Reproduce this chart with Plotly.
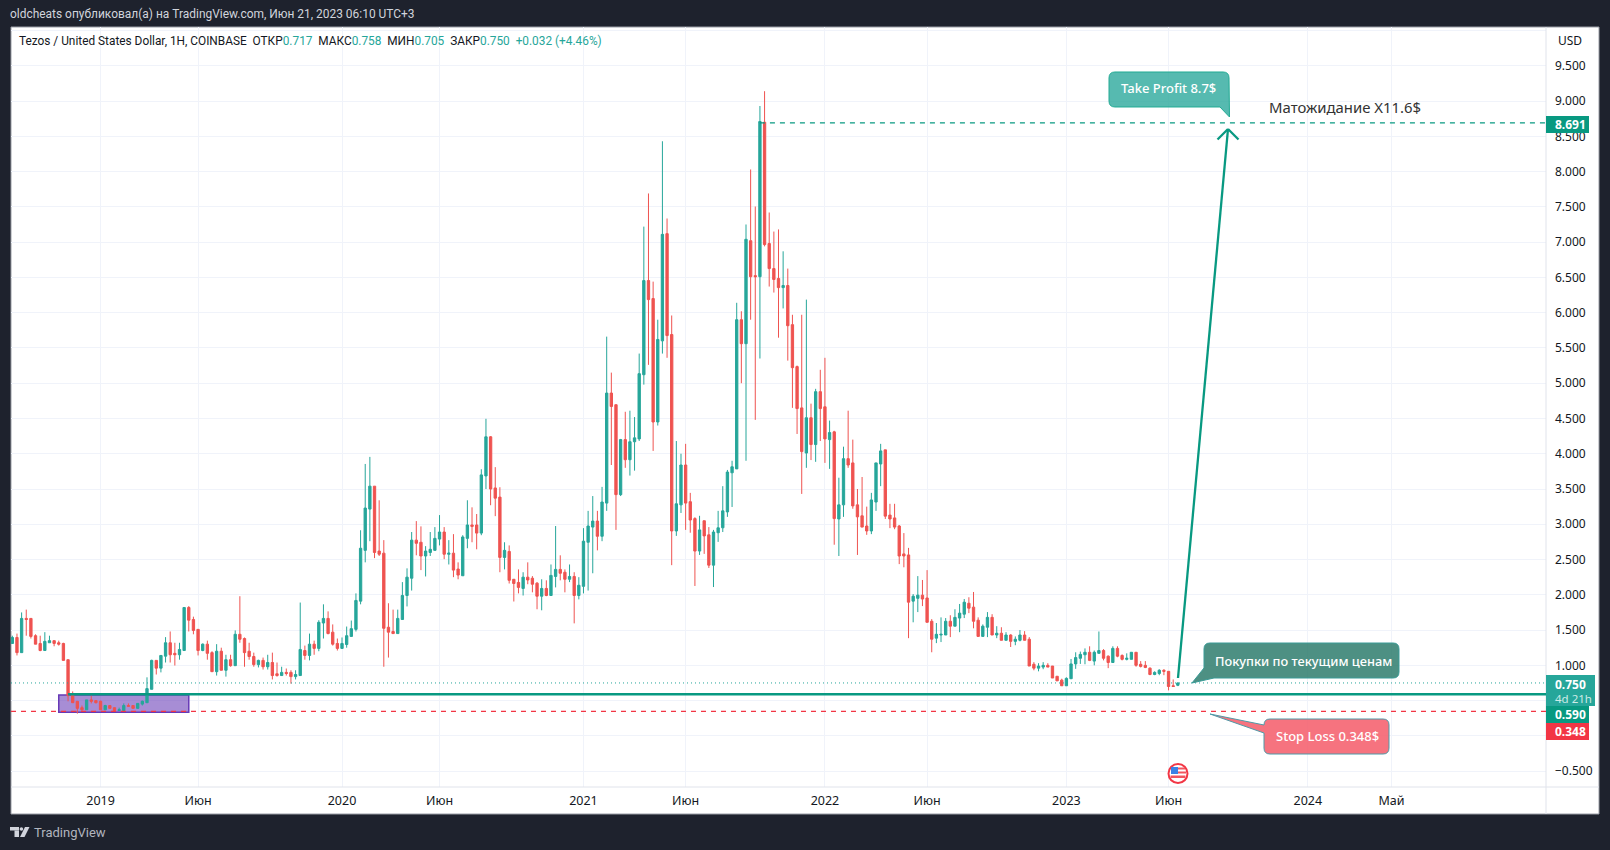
import pandas as pd
import plotly.graph_objects as go

# ---- data (weekly bars) ----
first_bar = "2018-08-27"
open_ = [1.31,1.395,1.18,1.665,1.665,1.42,1.31,1.21,1.32,1.35,
1.32,1.31,1.08,.60,.49,.40,.37,.51,.50,.49,
.37,.43,.40,.36,.36,.43,.43,.39,.45,.47,
.66,1.07,.96,1.13,1.32,1.17,1.15,1.21,1.82,1.65,
1.51,1.21,1.30,1.18,.91,1.20,.93,1.08,.995,1.44,
1.38,1.20,1.125,1.01,1.07,.98,1.04,.88,.855,.90,
.90,.84,.855,1.21,1.14,1.30,1.24,1.60,1.665,1.47,
1.31,1.24,1.295,1.41,1.51,1.91,2.63,3.215,3.54,2.62,
2.59,1.54,1.48,1.45,1.65,1.99,2.235,2.775,2.745,2.55,
2.60,2.63,2.79,2.89,2.575,2.59,2.365,2.27,2.80,2.99,
2.99,2.875,3.685,4.24,3.515,3.385,2.53,2.615,2.22,2.175,
2.09,2.25,2.235,2.165,1.98,2.09,1.99,2.26,2.36,2.32,
2.22,2.26,1.99,2.12,2.745,2.96,3.045,2.83,3.30,4.86,
4.695,3.42,4.20,3.915,4.17,4.21,5.12,6.455,6.20,4.45,
5.60,7.12,5.69,2.905,3.275,3.84,3.32,3.08,2.62,3.05,
2.85,2.42,2.88,2.95,3.175,3.73,3.785,5.90,5.56,7.02,
6.525,6.51,8.70,6.98,6.625,6.485,6.355,6.385,5.83,5.235,
4.65,4.01,4.51,4.13,4.88,4.665,4.20,4.31,3.075,3.275,
3.93,3.87,3.275,3.12,2.975,2.905,3.315,3.855,4.055,3.13,
3.09,2.975,2.58,2.565,1.91,1.95,1.995,1.955,1.625,1.385,
1.43,1.43,1.625,1.555,1.67,1.725,1.88,1.825,1.64,1.41,
1.54,1.68,1.43,1.455,1.355,1.43,1.34,1.355,1.43,1.37,
1.015,.96,.975,1.0,.99,.845,.79,.71,.81,1.02,
1.10,1.15,1.185,1.06,1.17,1.21,1.13,1.04,1.24,1.14,
1.085,1.085,1.185,1.015,1.0,.96,.87,.885,.93,.915,.71,.717]
high = [1.42,1.45,1.75,1.79,1.665,1.44,1.42,1.47,1.42,1.35,
1.35,1.32,1.08,.63,.49,.43,.51,.57,.50,.50,
.44,.43,.40,.40,.46,.46,.43,.46,.50,.83,
1.08,1.07,1.14,1.40,1.48,1.32,1.32,1.82,1.84,1.69,
1.51,1.31,1.35,1.20,1.30,1.25,1.15,1.15,1.495,1.98,
1.395,1.32,1.18,1.08,1.11,1.15,1.18,1.04,.98,.955,
.93,.93,1.89,1.28,1.45,1.35,1.64,1.865,1.765,1.58,
1.38,1.395,1.55,1.635,2.02,2.915,3.855,3.955,3.54,3.34,
2.775,1.88,1.79,1.79,2.18,2.375,2.89,3.045,2.97,2.69,
2.89,2.96,3.13,2.96,2.775,2.86,2.46,2.845,3.34,3.24,
3.145,3.78,4.495,4.25,3.81,3.525,2.745,2.70,2.22,2.36,
2.32,2.46,2.265,2.18,2.22,2.205,2.43,2.975,2.56,2.36,
2.43,2.32,2.25,2.945,3.19,3.40,3.19,3.53,5.66,5.15,
4.695,4.21,4.595,4.61,4.52,5.42,7.22,7.69,6.44,5.90,
8.43,7.335,5.96,4.18,4.0,4.14,3.445,3.10,3.12,3.05,
2.96,2.92,3.19,3.54,3.77,3.90,6.14,6.02,7.25,8.03,
7.505,8.93,9.14,7.42,7.15,7.18,6.87,6.625,5.97,5.25,
5.97,6.185,4.71,4.92,5.19,5.36,4.47,4.325,3.66,4.10,
4.61,4.20,3.50,3.67,3.25,3.445,3.87,4.14,4.055,3.29,
3.29,2.99,2.875,2.665,2.01,2.265,2.21,2.35,1.655,1.60,
1.68,1.67,1.71,1.795,1.87,1.94,1.965,2.04,1.68,1.58,
1.755,1.725,1.555,1.54,1.47,1.44,1.41,1.50,1.485,1.40,
1.045,1.03,1.045,1.03,.99,.845,.81,.83,1.09,1.185,
1.195,1.24,1.27,1.21,1.48,1.23,1.14,1.27,1.27,1.155,
1.17,1.185,1.185,1.06,1.06,.97,.915,.945,.945,.915,.80,.758]
low = [1.31,1.14,1.18,1.42,1.38,1.30,1.20,1.21,1.32,1.27,
1.28,1.07,.49,.47,.315,.36,.37,.46,.46,.37,
.37,.39,.36,.36,.36,.42,.39,.39,.43,.47,
.66,.87,.90,1.04,1.04,.997,1.08,1.21,1.48,1.44,
1.14,1.20,1.08,.91,.855,.93,.84,.98,.995,1.32,
.98,1.08,.98,.97,.94,.94,.80,.84,.855,.855,
.74,.80,.855,1.08,1.07,1.15,1.20,1.38,1.44,1.28,
1.21,1.24,1.25,1.41,1.48,1.865,2.46,2.76,2.52,2.55,
.98,1.11,1.45,1.45,1.65,1.835,2.06,2.56,2.35,2.26,
2.55,2.63,2.70,2.505,2.43,2.25,2.22,2.27,2.66,2.745,
2.645,2.845,3.50,3.27,3.115,2.32,2.36,2.16,1.905,2.02,
1.99,2.15,2.035,1.795,1.78,1.98,1.99,2.105,2.205,2.035,
2.18,1.595,1.935,2.02,2.06,2.305,2.63,2.76,3.19,3.84,
2.92,3.40,3.80,3.69,3.76,4.18,4.98,5.26,4.04,4.40,
5.42,5.36,2.42,2.835,3.16,2.92,2.88,2.125,2.565,2.58,
2.38,2.11,2.75,2.89,3.105,3.245,3.785,5.0,3.90,5.90,
4.48,5.35,6.94,6.37,6.285,5.645,6.06,5.32,4.65,4.28,
3.43,3.80,3.91,3.885,4.18,3.87,3.785,2.71,2.55,3.105,
3.80,3.22,2.565,2.96,2.85,2.86,3.19,3.54,3.075,2.945,
2.93,2.435,2.39,1.385,1.61,1.755,1.84,1.61,1.185,1.315,
1.33,1.43,1.40,1.555,1.47,1.67,1.74,1.525,1.41,1.41,
1.40,1.43,1.385,1.355,1.355,1.26,1.285,1.34,1.355,.99,
.93,.915,.945,.975,.82,.78,.71,.71,.81,.95,
1.02,1.015,1.06,1.0,1.17,1.07,.96,1.04,1.115,1.07,
1.07,1.085,.98,.97,.96,.86,.86,.86,.86,.645,.70,.705]
close = [1.395,1.18,1.665,1.65,1.41,1.30,1.21,1.34,1.35,1.31,
1.30,1.07,.57,.47,.39,.37,.51,.49,.47,.37,
.43,.39,.36,.37,.43,.42,.39,.46,.49,.67,
1.07,.96,1.14,1.32,1.15,1.15,1.225,1.82,1.64,1.495,
1.21,1.30,1.17,.91,1.20,.93,1.08,.995,1.44,1.37,
1.18,1.125,1.01,1.07,.98,1.04,.855,.855,.90,.885,
.84,.87,1.225,1.14,1.30,1.24,1.61,1.665,1.45,1.30,
1.24,1.31,1.42,1.52,1.92,2.66,3.23,3.54,2.60,2.575,
1.525,1.47,1.45,1.665,1.99,2.25,2.775,2.73,2.55,2.62,
2.645,2.80,2.89,2.575,2.59,2.35,2.28,2.82,2.99,2.97,
2.875,3.70,4.24,3.50,3.37,2.53,2.63,2.205,2.16,2.105,
2.25,2.21,2.15,1.98,2.09,1.99,2.275,2.36,2.305,2.22,
2.26,1.99,2.135,2.76,2.975,3.045,2.83,3.315,4.86,4.67,
3.42,4.20,3.915,4.17,4.225,5.135,6.455,6.185,4.45,5.62,
7.11,5.675,2.905,3.29,3.84,3.30,3.06,2.62,2.92,2.835,
2.42,2.89,2.95,3.19,3.74,3.815,5.90,5.56,7.04,6.51,
6.51,8.71,6.965,6.625,6.47,6.355,6.385,5.815,5.22,4.64,
4.03,4.51,4.13,4.88,4.64,4.21,4.30,3.08,3.275,3.93,
3.84,3.26,3.105,2.96,2.905,3.345,3.87,4.04,3.115,3.075,
2.96,2.55,2.55,1.895,1.98,1.995,1.94,1.61,1.37,1.44,
1.44,1.625,1.555,1.68,1.74,1.895,1.81,1.625,1.41,1.555,
1.68,1.43,1.455,1.355,1.43,1.34,1.37,1.43,1.355,.99,
.96,.99,1.0,.975,.82,.78,.71,.815,1.02,1.11,
1.155,1.185,1.07,1.185,1.21,1.10,1.04,1.24,1.13,1.085,
1.10,1.185,1.0,.985,.97,.87,.90,.93,.915,.70,.70,.75]

price_ticks = [-0.5,0,0.5,1,1.5,2,2.5,3,3.5,4,4.5,5,5.5,6,6.5,7,7.5,8,8.5,9,9.5,10]
price_labels = ["−0.500","","","1.000","1.500","2.000","2.500","3.000","3.500","4.000","4.500","5.000",
                "5.500","6.000","6.500","7.000","7.500","8.000","8.500","9.000","9.500",""]
time_ticks = ["2019-01-07","2019-06-03","2020-01-06","2020-06-01","2021-01-04","2021-06-07",
              "2022-01-03","2022-06-06","2023-01-02","2023-06-05","2024-01-01","2024-05-06"]
time_labels = ["2019","Июн","2020","Июн","2021","Июн","2022","Июн","2023","Июн","2024","Май"]
take_profit = 8.691
stop_loss = 0.348
entry_level = 0.590
last_price = 0.750
zone_top, zone_bottom = 0.579, 0.335

dates = pd.date_range(first_bar, periods=len(open_), freq="7D").strftime("%Y-%m-%d").tolist()

# ---- layout frame ----
W, H = 1610, 850
L, R, T, B = 11, 1546, 27, 787
X_RANGE = ["2018-08-25", "2024-12-25"]
FONT = "Noto Sans"
NARROW = "Roboto"
UP, DOWN = "#26a69a", "#ef5350"
TEAL, RED = "#089981", "#f23645"
BG = "#1e222d"

def fx(p): return (p - L) / (R - L)
def fy(p): return (B - p) / (B - T)

fig = go.Figure(go.Candlestick(
    x=dates, open=open_, high=high, low=low, close=close,
    increasing=dict(line=dict(color=UP, width=1), fillcolor=UP),
    decreasing=dict(line=dict(color=DOWN, width=1), fillcolor=DOWN),
    whiskerwidth=0, hoverinfo="skip", showlegend=False,
))

shapes, notes = [], []

def rect(x0, y0, x1, y1, fill, line=None, lw=0, layer="above"):
    shapes.append(dict(type="rect", xref="paper", yref="paper", x0=fx(x0), x1=fx(x1), y0=fy(y0), y1=fy(y1),
                       fillcolor=fill, line=dict(color=line or fill, width=lw), layer=layer))

def seg(x0, y0, x1, y1, color, w=1, dash="solid"):
    shapes.append(dict(type="line", xref="paper", yref="paper", x0=fx(x0), x1=fx(x1), y0=fy(y0), y1=fy(y1),
                       line=dict(color=color, width=w, dash=dash)))

def poly(pts, fill, line=None, lw=0):
    d = "M " + " L ".join(f"{fx(a):.5f},{fy(b):.5f}" for a, b in pts) + " Z"
    shapes.append(dict(type="path", xref="paper", yref="paper", path=d, fillcolor=fill,
                       line=dict(color=line or fill, width=lw)))

def bubble(x0, y0, x1, y1, r, tail, fill, line):
    # rounded box; tail = (side, a, b, tipx, tipy)
    side, a, b, tx, ty = tail
    c = lambda p, q: f"{fx(p):.5f},{fy(q):.5f}"
    if side == "right-bottom":
        d = (f"M {c(x0+r,y0)} L {c(x1-r,y0)} Q {c(x1,y0)} {c(x1,y0+r)} L {c(tx,ty)} L {c(x1-a,y1)} "
             f"L {c(x0+r,y1)} Q {c(x0,y1)} {c(x0,y1-r)} L {c(x0,y0+r)} Q {c(x0,y0)} {c(x0+r,y0)} Z")
    elif side == "left-bottom":
        d = (f"M {c(x0+r,y0)} L {c(x1-r,y0)} Q {c(x1,y0)} {c(x1,y0+r)} L {c(x1,y1-r)} Q {c(x1,y1)} {c(x1-r,y1)} "
             f"L {c(x0+b,y1)} L {c(tx,ty)} L {c(x0,y0+a)} L {c(x0,y0+r)} Q {c(x0,y0)} {c(x0+r,y0)} Z")
    else:  # left-top
        d = (f"M {c(x0+r,y0)} L {c(x1-r,y0)} Q {c(x1,y0)} {c(x1,y0+r)} L {c(x1,y1-r)} Q {c(x1,y1)} {c(x1-r,y1)} "
             f"L {c(x0+r,y1)} Q {c(x0,y1)} {c(x0,y1-r)} L {c(x0,y0+b)} L {c(tx,ty)} L {c(x0,y0+a)} L {c(x0,y0+r)} Q {c(x0,y0)} {c(x0+r,y0)} Z")
    shapes.append(dict(type="path", xref="paper", yref="paper", path=d, fillcolor=fill, line=dict(color=line, width=1)))

def note(text, x, y, color="#131722", size=12, anchor="left", weight=None, font=FONT):
    f = dict(family=font, size=size, color=color)
    if weight: f["weight"] = weight
    notes.append(dict(text=text, xref="paper", yref="paper", x=fx(x), y=fy(y), xanchor=anchor, yanchor="middle",
                      showarrow=False, font=f, borderpad=0))

# white chart panel on the dark page
rect(11, 27, 1599, 814, "#ffffff", "#9a9da6", 1, layer="below")
seg(1546, 27, 1546, 814, "#e0e3eb", 1)
seg(11, 787, 1599, 787, "#e0e3eb", 1)

# zone and levels, in data coordinates
shapes.append(dict(type="rect", xref="x", yref="y", x0=dates[10], x1=dates[38], y0=zone_bottom, y1=zone_top,
                   fillcolor="rgba(103,58,183,0.58)", line=dict(color="#673ab7", width=1.5), layer="between"))
shapes.append(dict(type="line", xref="x", yref="y", x0=X_RANGE[0], x1=X_RANGE[1], y0=last_price, y1=last_price,
                   line=dict(color=UP, width=1, dash="1px,3px"), layer="above"))
shapes.append(dict(type="line", xref="x", yref="y", x0=X_RANGE[0], x1=X_RANGE[1], y0=stop_loss, y1=stop_loss,
                   line=dict(color=RED, width=1.2, dash="5px,5px")))
shapes.append(dict(type="line", xref="x", yref="y", x0=dates[12], x1=X_RANGE[1], y0=entry_level, y1=entry_level,
                   line=dict(color=TEAL, width=2.5)))
shapes.append(dict(type="line", xref="x", yref="y", x0=dates[161], x1=X_RANGE[1], y0=take_profit, y1=take_profit,
                   line=dict(color=TEAL, width=1.2, dash="5px,5px")))

# big arrow
seg(1178, 678, 1228, 129, TEAL, 2.3)
seg(1217.5, 139.5, 1228, 129, TEAL, 2.3)
seg(1238.5, 139.5, 1228, 129, TEAL, 2.3)

# callouts
bubble(1109, 72, 1229, 107, 6, ("right-bottom", 9, 0, 1229.5, 117), "rgba(38,166,154,0.78)", "#22ab94")
note("Take Profit 8.7$", 1168.5, 88, "#ffffff", 13, "center", weight=500)
note("Матожидание X11.6$", 1268, 106.5, "#333333", 14.9)
bubble(1204, 643, 1399, 678, 6, ("left-bottom", 25, 10, 1192, 683), "rgba(38,120,104,0.82)", "#3a9b97")
note("Покупки по текущим ценам", 1303, 660.5, "#ffffff", 12.8, "center", weight=500)
bubble(1264, 719, 1389, 754, 6, ("left-top", 6, 14, 1210, 714), "rgba(245,90,105,0.85)", "#4f9aa8")
note("Stop Loss 0.348$", 1327, 736, "#ffffff", 13, "center", weight=500)

# price-axis labels
rect(1546, 675, 1595, 706, UP)
note("0.750", 1554, 684, "#ffffff", 12, weight=700)
note("4d 21h", 1554, 698, "#cdebe7", 11.5)
rect(1546, 706, 1589, 723, TEAL)
note("0.590", 1554, 714.5, "#ffffff", 12, weight=700)
rect(1546, 723, 1589, 740, RED)
note("0.348", 1554, 731.5, "#ffffff", 12, weight=700)
rect(1546, 116, 1589, 133, TEAL)
note("8.691", 1554, 124.5, "#ffffff", 12, weight=700)
note("USD", 1557, 41, "#131722", 12)

# header texts
note("oldcheats опубликовал(а) на TradingView.com, Июн 21, 2023 06:10 UTC+3", 9, 14, "#d1d4dc", 11.95, font=NARROW)
g = f'<span style="color:{UP}">%s</span>'
nb = "\u00a0\u00a0"
note("Tezos / United States Dollar, 1H, COINBASE" + nb + "ОТКР" + g % "0.717" + nb + "МАКС" + g % "0.758" + nb +
     "МИН" + g % "0.705" + nb + "ЗАКР" + g % "0.750" + nb + g % "+0.032 (+4.46%)", 18, 41, "#131722", 11.85, font=NARROW)

# economic-event flag
shapes.append(dict(type="circle", xref="paper", yref="paper", x0=fx(1168.5), x1=fx(1187.5), y0=fy(764), y1=fy(783),
                   fillcolor="#ffffff", line=dict(color=RED, width=2)))
rect(1171, 767, 1178, 774, "#3b82e6")
rect(1178, 767.5, 1185, 769.5, "#f2555f")
rect(1178, 771.5, 1186, 773.5, "#f2555f")
rect(1170.5, 775.5, 1185.5, 778, "#f2555f")

# TradingView logo
rect(10, 827, 19, 830.5, "#d1d4dc")
rect(14.5, 830.5, 19, 837, "#d1d4dc")
shapes.append(dict(type="circle", xref="paper", yref="paper", x0=fx(19.6), x1=fx(23.2), y0=fy(827.2), y1=fy(830.8),
                   fillcolor="#d1d4dc", line=dict(width=0)))
poly([(25, 827), (29.5, 827), (24.5, 837), (20, 837)], "#d1d4dc")
note("TradingView", 33, 832.5, "#b2b5be", 13, font=NARROW)

fig.update_layout(
    width=W, height=H, margin=dict(l=L, r=W - R, t=T, b=H - B, pad=0), autosize=False,
    paper_bgcolor=BG, plot_bgcolor="rgba(0,0,0,0)",
    font=dict(family=FONT, size=12, color="#131722"),
    showlegend=False, hovermode=False, boxgap=0.5, boxgroupgap=0,
    shapes=shapes, annotations=notes,
    xaxis=dict(type="date", range=X_RANGE, rangeslider=dict(visible=False), tickmode="array",
               tickvals=time_ticks, ticktext=time_labels, showgrid=True, gridcolor="#f0f3fa", gridwidth=1,
               zeroline=False, ticks="", ticklen=0, tickfont=dict(family=FONT, size=12.5, color="#131722"),
               ticklabelstandoff=4, tickangle=0),
    yaxis=dict(side="right", range=[-0.725, 10.05], tickmode="array", tickvals=price_ticks, ticktext=price_labels,
               showgrid=True, gridcolor="#f0f3fa", gridwidth=1, zeroline=False, ticks="",
               tickfont=dict(family=FONT, size=12, color="#131722"), ticklabelstandoff=8),
)

fig.write_html("out.html", config={"displayModeBar": False},
               post_script="document.body.style.margin='0';document.documentElement.style.overflow='hidden';")
